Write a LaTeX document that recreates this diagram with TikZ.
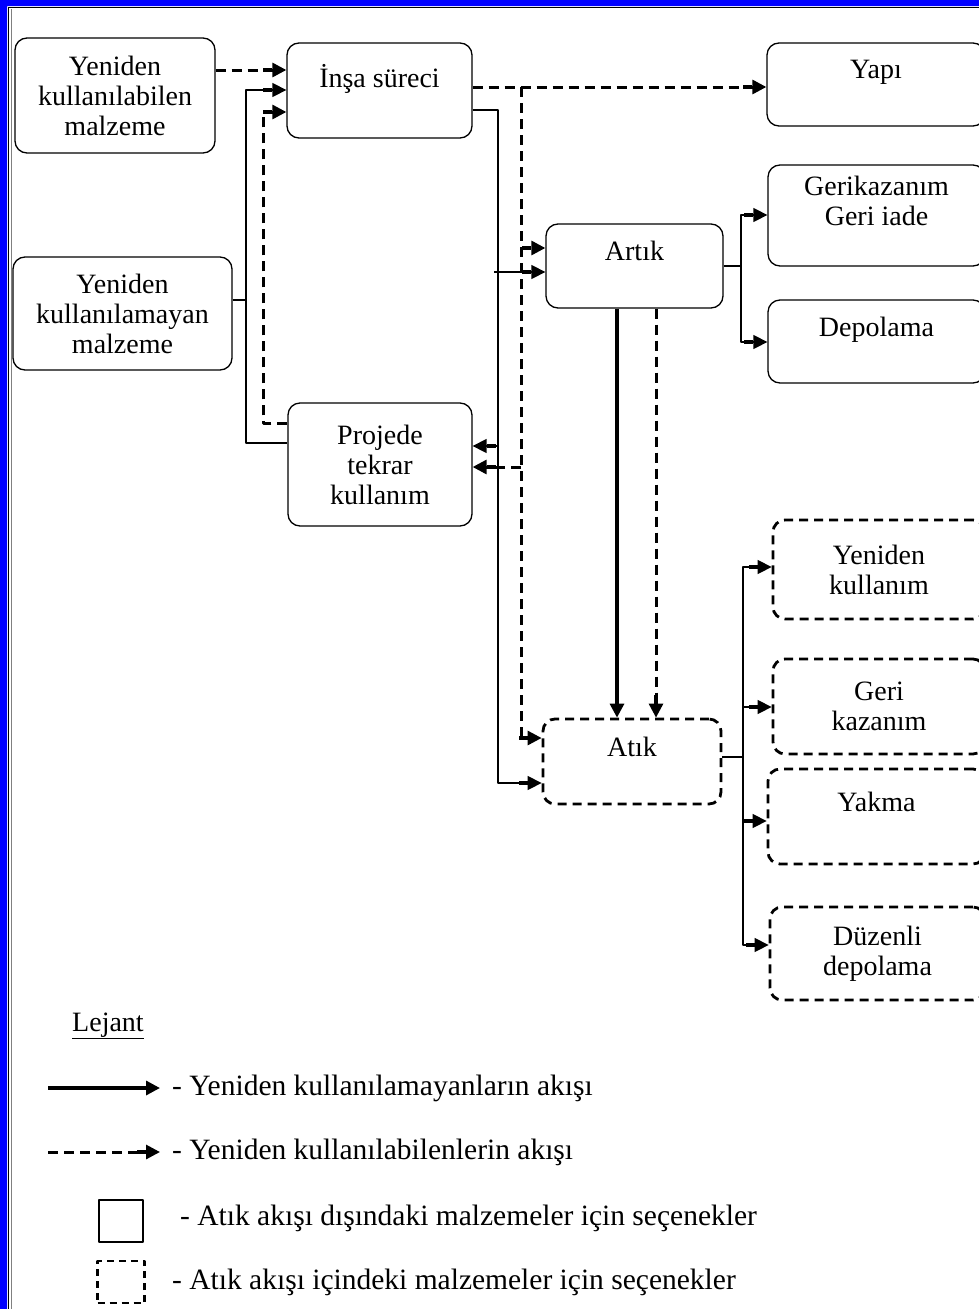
\documentclass[tikz,border=0pt]{standalone}
\usepackage{fontspec}
\setmainfont{Liberation Serif}
\usetikzlibrary{arrows.meta}

\begin{document}
\begin{tikzpicture}[x=1pt, y=-1pt, line join=round,
        >={Rectangle[length=9pt,width=3.5pt,sep=0pt]Triangle[length=14pt,width=14pt]},
        font=\fontsize{28}{30}\selectfont,
        box/.style={draw, line width=1.3pt, rounded corners=12pt, align=center, inner sep=0pt},
        wastebox/.style={box, line width=2.8pt, dash pattern=on 9pt off 6pt},
        flow/.style={line width=1.4pt},
        heavyflow/.style={line width=3.2pt},
        reflow/.style={line width=3pt, dash pattern=on 10pt off 6pt},
        keytext/.style={anchor=west, inner sep=0pt, font=\fontsize{29.5}{30}\selectfont}]
        \clip (0,0) rectangle (979,1309);
        \fill[white] (0,0) rectangle (979,1309);
        % frame
        \fill[blue] (0,0) rectangle (7,1309) (0,0) rectangle (979,6);
        \draw[line width=1pt] (8.5,1309) -- (8.5,7) -- (979,7);
        \draw[gray, line width=0.8pt] (11.5,1309) -- (11.5,9);
        
        % boxes
        \node[box, minimum width=200, minimum height=115] (reuse) at (115,95.5)
        {Yeniden\\kullanılabilen\\malzeme};
        \node[box, minimum width=219, minimum height=113] (nonreuse) at (122.5,313.5)
        {Yeniden\\kullanılamayan\\malzeme};
        \node[box, minimum width=185, minimum height=95] (insa) at (379.5,90.5)
        {İnşa süreci\\\mbox{}};
        \node[box, minimum width=184, minimum height=123] (proje) at (380,464.5)
        {Projede\\tekrar\\kullanım};
        \node[box, minimum width=177, minimum height=84] (artik) at (634.5,266)
        {Artık\\\mbox{}};
        \node[wastebox, minimum width=178, minimum height=85] (atik) at (632,761.5)
        {Atık\\\mbox{}};
        \node[box, minimum width=218, minimum height=83] (yapi) at (876,84.5)
        {Yapı\\\mbox{}};
        \node[box, minimum width=217, minimum height=101] (geri) at (876.5,215.5)
        {Gerikazanım\\Geri iade\\\mbox{}};
        \node[box, minimum width=217, minimum height=83] (depo) at (876.5,341.5)
        {Depolama\\\mbox{}};
        \node[wastebox, minimum width=212, minimum height=99] (yenikul) at (879,569.5)
        {Yeniden\\kullanım};
        \node[wastebox, minimum width=212, minimum height=95] (gerikaz) at (879,706.5)
        {Geri\\kazanım};
        \node[wastebox, minimum width=217, minimum height=95] (yakma) at (876.5,816.5)
        {Yakma\\\mbox{}};
        \node[wastebox, minimum width=215, minimum height=93] (duzenli) at (877.5,953.5)
        {Düzenli\\depolama};
        
        % forks
        \path (246,300) coordinate (lfork)
        (521,87) coordinate (dfork)
        (498,110) coordinate (sfork)
        (741,266) coordinate (rfork)
        (743,757) coordinate (wfork);
        
        % left side
        \draw[reflow,->] (reuse.east |- 0,70) -- (insa.west |- 0,70);
        \draw[flow] (nonreuse.east |- lfork) -- (lfork);
        \draw[flow,->] (lfork) |- (insa.west |- 0,90);
        \draw[flow] (lfork) |- (proje.west |- 0,443);
        \draw[reflow,->] (proje.west |- 0,423) -| (263,112) -- (insa.west |- 0,112);
        
        % out of the building process
        \draw[reflow,->] (insa.east |- dfork) -- (yapi.west |- dfork);
        \draw[reflow,->] (dfork) |- (atik.west |- 0,738);
        \draw[reflow,->] (dfork |- 0,248) -- (artik.west |- 0,248);
        \draw[reflow,->] (dfork |- 0,467) -- (proje.east |- 0,467);
        \draw[flow,->] (insa.east |- sfork) -- (sfork) |- (atik.west |- 0,783);
        \draw[flow,->] (494,272) -- (artik.west |- 0,272);
        \draw[flow,->] (sfork |- 0,446) -- (proje.east |- 0,446);
        
        % surplus to waste
        \draw[heavyflow,->] (artik.south -| 617,0) -- (atik.north -| 617,0);
        \draw[reflow,->] (artik.south -| 656,0) -- (atik.north -| 656,0);
        
        % options
        \draw[flow] (artik.east) -- (rfork);
        \foreach \n/\y in {geri/215, depo/342}
        \draw[flow,->] (rfork) |- (\n.west |- 0,\y);
        \draw[flow] (atik.east |- wfork) -- (wfork);
        \foreach \n/\y in {yenikul/567, gerikaz/707, yakma/821, duzenli/945}
        \draw[flow,->] (wfork) |- (\n.west |- 0,\y);
        
        % legend
        \node (lejant) at (108,1026) {\underline{Lejant}};
        \path (48,1088) coordinate (s1) (160,1088) coordinate (s2)
        (48,1152) coordinate (d1) (160,1152) coordinate (d2);
        \draw[heavyflow,->] (s1) -- (s2);
        \draw[reflow,->] (d1) -- (d2);
        \node[keytext] (k1) at (172,1088) {- Yeniden kullanılamayanların akışı};
        \node[keytext] (k2) at (172,1152) {- Yeniden kullanılabilenlerin akışı};
        \node[draw, line width=1.3pt, minimum width=44, minimum height=42] (kbox) at (121,1221) {};
        \node[draw, line width=2.6pt, dash pattern=on 7pt off 5pt, minimum width=47,
        minimum height=42] (kwbox) at (121,1282) {};
        \node[keytext] (k3) at (180,1218) {- Atık akışı dışındaki malzemeler için seçenekler};
        \node[keytext] (k4) at (172,1282) {- Atık akışı içindeki malzemeler için seçenekler};
\end{tikzpicture}
\end{document}
